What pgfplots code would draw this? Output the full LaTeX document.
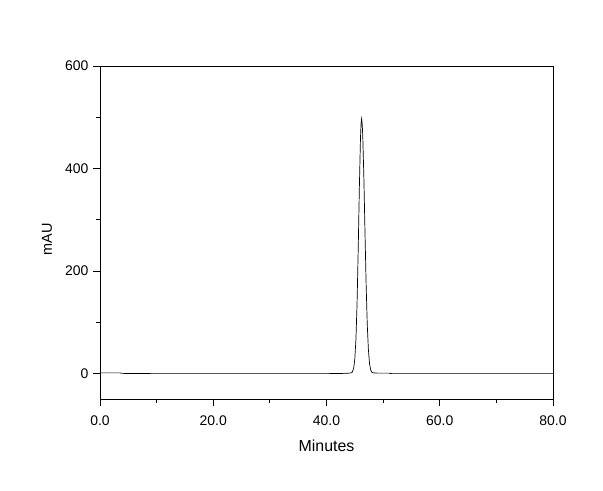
\documentclass[border=0pt]{standalone}
\usepackage{pgfplots}
\pgfplotsset{compat=1.18}
\usepackage{fontspec}
\setmainfont{Liberation Sans}
\begin{document}
\begin{tikzpicture}
\begin{axis}[
  name=ax,
  scale only axis,
  width=453bp, height=333bp,
  xmin=0, xmax=80, ymin=-50, ymax=600,
  xtick={0,20,40,60,80},
  ytick={0,200,400,600},
  minor xtick={10,30,50,70},
  minor ytick={100,300,500},
  tick align=outside,
  major tick length=7bp,
  minor tick length=4bp,
  xtick pos=bottom, ytick pos=left,
  /pgf/number format/assume math mode=true,
  tick label style={font=\fontsize{14}{16}\selectfont},
  xticklabel style={/pgf/number format/fixed, /pgf/number format/fixed zerofill, /pgf/number format/precision=1, yshift=-6bp},
  yticklabel style={/pgf/number format/fixed, xshift=-1bp},
  scaled ticks=false,
  every tick/.style={black, line width=0.8bp},
  axis line style={line width=0.9bp},
  xlabel={Minutes},
  ylabel={mAU},
  xlabel style={font=\fontsize{16}{18}\selectfont, at={(axis description cs:0.5,-0.1402)}, anchor=center},
  ylabel style={font=\fontsize{14.5}{17}\selectfont, at={(axis description cs:-0.117,0.479)}, anchor=center},
  every axis plot/.append style={line width=0.7bp},
]
\addplot[black, no markers] coordinates {
(0,1) (2,1) (3.5,1) (4,0) (10,-0.5) (20,-0.5) (30,-0.5) (40,-0.5) (43,0) (44,0.5)
(44.5,1.5) (44.8,9.8) (45.0,28) (45.2,67) (45.4,138) (45.6,242) (45.8,361)
(46.0,459) (46.1,487) (46.2,497) (46.3,487) (46.4,465) (46.6,382) (46.8,274)
(47.0,173) (47.2,95) (47.4,46) (47.6,19) (47.8,7) (48.0,2.3) (48.3,1) (49,0.5)
(51,0.5) (51.5,-0.5) (60,-0.5) (70,-0.5) (80,-0.5)
};
\end{axis}
\path ([xshift=-100bp,yshift=-91bp]ax.south west) rectangle ([xshift=50bp,yshift=66bp]ax.north east);
\end{tikzpicture}
\end{document}
